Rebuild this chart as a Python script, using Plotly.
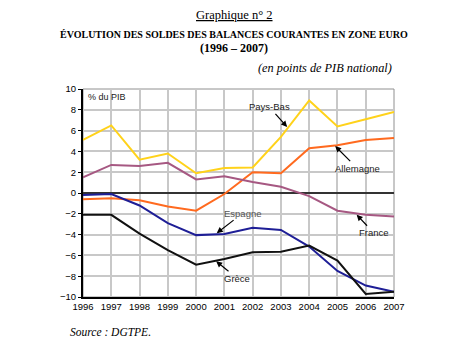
import plotly.graph_objects as go

years = list(range(1996, 2008))
pays_bas = [5.1, 6.5, 3.2, 3.8, 1.9, 2.4, 2.45, 5.4, 8.9, 6.4, 7.1, 7.8]
allemagne = [-0.6, -0.5, -0.7, -1.3, -1.7, -0.1, 2.0, 1.9, 4.3, 4.6, 5.1, 5.3]
france = [1.5, 2.7, 2.6, 2.9, 1.3, 1.6, 1.05, 0.6, -0.3, -1.7, -2.1, -2.25]
espagne = [-0.2, -0.1, -1.2, -2.9, -4.05, -3.95, -3.35, -3.55, -5.15, -7.5, -8.9, -9.5]
grece = [-2.1, -2.1, -3.9, -5.5, -6.9, -6.35, -5.7, -5.65, -5.05, -6.5, -9.7, -9.5]
y_ticks = list(range(-10, 11, 2))

series = [
    ("Pays-Bas", pays_bas, "#FFD21A"),
    ("Allemagne", allemagne, "#FF6A1F"),
    ("France", france, "#A65882"),
    ("Espagne", espagne, "#1E1E96"),
    ("Grèce", grece, "#111111"),
]

fig = go.Figure()
for name, vals, col in series:
    fig.add_trace(go.Scatter(x=years, y=vals, mode="lines", name=name,
                             line=dict(color=col, width=2), showlegend=False))

sans = "Liberation Sans, Arial, sans-serif"
serif = "Liberation Serif, Times New Roman, serif"

# page body has an 8px margin, so the figure is offset by 8px
fig.update_layout(
    width=467, height=348,
    margin=dict(l=75, r=81, t=81, b=59),
    paper_bgcolor="white", plot_bgcolor="white",
    xaxis=dict(range=[1996, 2007], tickvals=years, ticktext=[str(y) for y in years],
               showgrid=True, gridcolor="#C8C8C8", gridwidth=1.5,
               showline=True, linecolor="black", linewidth=1.5,
               ticks="", tickfont=dict(family=sans, size=9.5, color="black"),
               zeroline=False, fixedrange=True),
    yaxis=dict(range=[-10, 10], tickvals=y_ticks,
               showgrid=True, gridcolor="#C8C8C8", gridwidth=1.5,
               showline=True, linecolor="black", linewidth=2,
               ticks="outside", ticklen=3, tickcolor="black",
               tickfont=dict(family=sans, size=9.5, color="black"),
               zeroline=True, zerolinecolor="#333333", zerolinewidth=2,
               fixedrange=True),
)

fig.add_shape(type="rect", xref="paper", yref="paper", x0=0, y0=0, x1=1, y1=1,
              line=dict(color="#909090", width=1), layer="below")

# window coordinates: plot area spans x 83..394, y 89..297
def pix(text, x, y, font, anchor="center"):
    fig.add_annotation(text=text, xref="paper", yref="paper",
                       x=(x - 83) / 311, y=(297 - y) / 208, showarrow=False,
                       font=font, xanchor=anchor, yanchor="middle")

pix("<u>Graphique n° 2</u>", 234, 15, dict(family=serif, size=12.5, color="black"))
pix("<b>ÉVOLUTION DES SOLDES DES BALANCES COURANTES EN ZONE EURO</b>", 234, 34,
    dict(family=serif, size=10, color="black"))
pix("<b>(1996 – 2007)</b>", 234, 48, dict(family=serif, size=12, color="black"))
pix("<i>(en points de PIB national)</i>", 325, 68, dict(family=serif, size=12.3, color="black"))
pix("<i>Source : DGTPE.</i>", 68, 332, dict(family=serif, size=11.5, color="black"), anchor="left")
pix("% du PIB", 86, 97, dict(family=sans, size=9, color="#222222"), anchor="left")

labels = [
    ("Pays-Bas", 2003.22, 6.35, -18, -20, "#222222"),
    ("Allemagne", 2004.92, 4.51, 22, 22, "#222222"),
    ("Espagne", 2000.73, -3.86, 26, -20, "#555555"),
    ("Grèce", 2000.71, -6.57, 21, 17, "#222222"),
    ("France", 2005.68, -2.09, 17, 18, "#222222"),
]
for txt, x, y, ax, ay, col in labels:
    fig.add_annotation(text=txt, x=x, y=y, xref="x", yref="y", ax=ax, ay=ay,
                       showarrow=True, arrowhead=2, arrowsize=1, arrowwidth=1.2,
                       arrowcolor="black", font=dict(family=sans, size=9.5, color=col),
                       bgcolor="rgba(255,255,255,0)")

fig.write_html("out.html")
